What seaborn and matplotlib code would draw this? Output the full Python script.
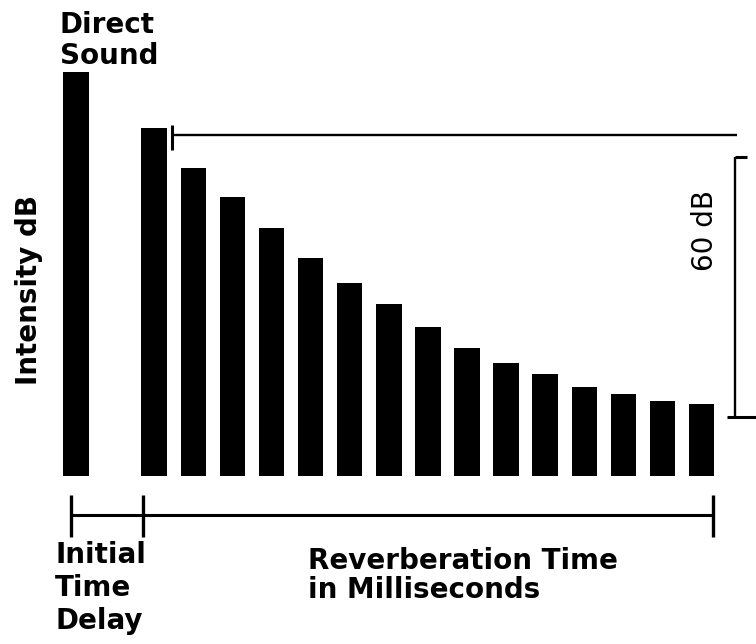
import numpy as np
import pandas as pd
import matplotlib
matplotlib.use("Agg")
import matplotlib.pyplot as plt
import seaborn as sns

# ---- data (intensity in dB above the floor) ----
direct_sound_db = [93.2]
reverb_db = [80.3, 71.1, 64.4, 57.2, 50.3, 44.5, 39.7, 34.4, 29.5,
             26.1, 23.5, 20.5, 18.9, 17.3, 16.6]
initial_delay_slots = 1          # empty slots between direct sound and first reflection
decay_range_db = [13.6, 73.6]    # the "60 dB" bracket
reference_level_db = 78.7        # level line from first reflection

sns.set_style("white")
plt.rcParams["font.family"] = ["DejaVu Sans"]
plt.rcParams["text.color"] = "black"

positions = [0] + [1 + initial_delay_slots + i for i in range(len(reverb_db))]
df = pd.DataFrame({"slot": positions, "db": direct_sound_db + reverb_db})

W, H = 756, 644
fig = plt.figure(figsize=(W / 100, H / 100), dpi=100)
ax = fig.add_axes([0, 0, 1, 1])

sns.barplot(data=df, x="slot", y="db", native_scale=True, color="black",
            saturation=1, width=0.65, edgecolor="none", errorbar=None, ax=ax)

# pixel mapping: slot 0 centre at px 76, 39.1 px per slot; baseline at px 476, 4.333 px per dB
x0, dx = 76.0, 39.1
y0, dy = 476.0, 4.333
ax.set_xlim((0 - x0) / dx, (W - x0) / dx)
ax.set_ylim((y0 - H) / dy, y0 / dy)
ax.set_axis_off()

def px(x):
    return (x - x0) / dx

def py(y):
    return (y0 - y) / dy

lw = 1.7
last = positions[-1]
first_rev = positions[1]

# reference level line at top of first reflection
ax.plot([first_rev + 0.46, last + 0.9], [reference_level_db] * 2, color="black", lw=lw,
        solid_capstyle="butt")
ax.plot([first_rev + 0.46] * 2, [reference_level_db + 2.3, reference_level_db - 3.5],
        color="black", lw=2.2, solid_capstyle="butt")

# 60 dB bracket
bx = last + 0.86
ax.plot([bx, bx], decay_range_db, color="black", lw=lw, solid_capstyle="butt")
ax.plot([bx, bx + 0.3], [decay_range_db[1]] * 2, color="black", lw=2.2, solid_capstyle="butt")
ax.plot([bx - 0.2, bx + 0.6], [decay_range_db[0]] * 2, color="black", lw=2.2,
        solid_capstyle="butt")

# time axis with ticks
ty = py(515)
ax.plot([-0.13, last + 0.3], [ty, ty], color="black", lw=2.2, solid_capstyle="butt")
for tx in [-0.13, first_rev - 0.29, last + 0.3]:
    ax.plot([tx, tx], [py(495), py(537)], color="black", lw=2.4, solid_capstyle="butt")

fs = 20
def ftext(x, y, s, **kw):
    fig.text(x / W, 1 - y / H, s, color="black", **kw)

ftext(60, 11, "Direct\nSound", fontsize=fs, fontweight="bold", va="top", ha="left",
      linespacing=1.12)
ftext(29, 290, "Intensity dB", fontsize=fs, fontweight="bold", rotation=90,
      va="center", ha="center")
ftext(705, 230, "60 dB", fontsize=fs, rotation=90, va="center", ha="center")
ftext(55, 541, "Initial\nTime\nDelay", fontsize=fs, fontweight="bold", va="top",
      ha="left", linespacing=1.22)
ftext(308, 547, "Reverberation Time\nin Milliseconds", fontsize=fs, fontweight="bold",
      va="top", ha="left", linespacing=1.05)

fig.savefig("out.png", dpi=100)
